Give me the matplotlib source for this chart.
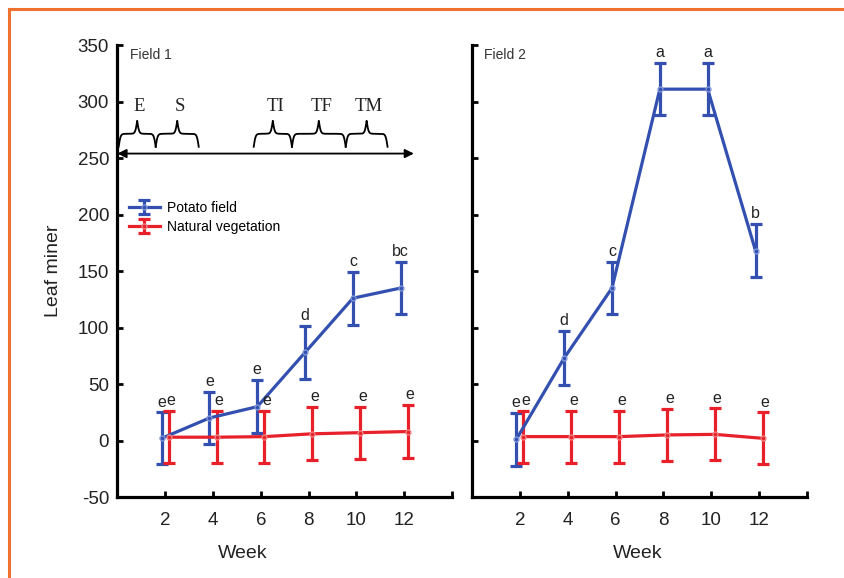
import numpy as np
import matplotlib
matplotlib.use("Agg")
import matplotlib.pyplot as plt
from matplotlib.lines import Line2D

plt.rcParams['font.family'] = ['Liberation Sans', 'DejaVu Sans']
plt.rcParams['axes.unicode_minus'] = False

# data
weeks = [2, 4, 6, 8, 10, 12]

potato_f1 = [2, 20, 30, 78, 126, 135]
potato_f1_err = [23, 23, 23.5, 23.5, 23.5, 23]
veg_f1 = [3, 3, 3.5, 6, 7, 8]
veg_f1_err = [23, 23, 23, 23.5, 23, 23.5]

potato_f2 = [1, 73, 135, 311, 311, 168]
potato_f2_err = [23.5, 24, 23, 23, 23, 23.5]
veg_f2 = [3.5, 3.5, 3.5, 5, 5.5, 2]
veg_f2_err = [23, 23, 23, 23, 23, 23]

letters_pot_f1 = ['e', 'e', 'e', 'd', 'c', 'bc']
letters_veg_f1 = ['e', 'e', 'e', 'e', 'e', 'e']
letters_pot_f2 = ['e', 'd', 'c', 'a', 'a', 'b']
letters_veg_f2 = ['e', 'e', 'e', 'e', 'e', 'e']

# crop stages drawn as braces in field 1
phases = ['E', 'S', 'TI', 'TF', 'TM']
phase_start = [0.05, 1.6, 5.7, 7.3, 9.55]
phase_end = [1.6, 3.4, 7.3, 9.55, 11.3]

blue = '#3350b0'
red = '#e8202a'
shift = 0.15


def brace(ax, x0, x1, yend, ytip, beta=25):
    # horizontal curly brace, pointing up
    xm = (x0 + x1) / 2
    xs = np.linspace(x0, xm, 150)
    half = 1 / (1 + np.exp(-beta * (xs - x0))) + 1 / (1 + np.exp(-beta * (xs - xm)))
    y = np.concatenate((half, half[-2::-1]))
    x = np.concatenate((xs, (x0 + x1) - xs[-2::-1]))
    y = yend + (y - 0.5) * (ytip - yend)
    ax.plot(x, y, color='k', lw=1.3, clip_on=False)


def draw_panel(ax, pot, pot_err, veg, veg_err, let_pot, let_veg, title, ylabels):
    x = np.array(weeks)
    hp = ax.errorbar(x - shift, pot, yerr=pot_err, color=blue, lw=2.3, elinewidth=2.3,
                     capsize=4, capthick=2.3, marker='o', ms=3.5, mfc='none',
                     mec='#7f95d8', label='Potato field')
    hv = ax.errorbar(x + shift, veg, yerr=veg_err, color=red, lw=2.3, elinewidth=2.3,
                     capsize=4, capthick=2.3, marker='o', ms=3.5, mfc='none',
                     mec='#f08080', label='Natural vegetation')
    for xi, m, e, l in zip(x - shift, pot, pot_err, let_pot):
        ax.annotate(l, (xi, m + e), xytext=(0, 2), textcoords='offset points',
                    ha='center', va='bottom', fontsize=11.5, color='#222222')
    for xi, m, e, l in zip(x + shift, veg, veg_err, let_veg):
        ax.annotate(l, (xi + 0.1, m + e), xytext=(0, 2), textcoords='offset points',
                    ha='center', va='bottom', fontsize=11.5, color='#222222')

    ax.set_xlim(0, 14)
    ax.set_ylim(-50, 350)
    ax.set_xticks(list(weeks) + [14], [str(w) for w in weeks] + [''])
    ax.set_yticks(np.arange(-50, 351, 50))
    if not ylabels:
        ax.set_yticklabels([])
    for s in ['top', 'right']:
        ax.spines[s].set_visible(False)
    for s in ['left', 'bottom']:
        ax.spines[s].set_linewidth(2.3)
    ax.tick_params(axis='both', direction='in', length=4, width=2, labelsize=13.5,
                   colors='k', labelcolor='#222222')
    ax.tick_params(axis='x', pad=11)
    ax.tick_params(axis='y', pad=6)
    ax.text(0.037, 0.978, title, transform=ax.transAxes, fontsize=10,
            ha='left', va='center', color='#333333')
    ax.set_xlabel('Week', fontsize=14, color='#222222')
    return hp, hv


fig = plt.figure(figsize=(8.45, 5.78), dpi=100)
ax1 = fig.add_axes([0.139, 0.140, 0.396, 0.782])
ax2 = fig.add_axes([0.5586, 0.140, 0.3964, 0.782])

hp, hv = draw_panel(ax1, potato_f1, potato_f1_err, veg_f1, veg_f1_err,
                    letters_pot_f1, letters_veg_f1, 'Field 1', True)
draw_panel(ax2, potato_f2, potato_f2_err, veg_f2, veg_f2_err,
           letters_pot_f2, letters_veg_f2, 'Field 2', False)

ax1.set_ylabel('Leaf miner', fontsize=14, color='#222222')
ax1.yaxis.set_label_coords(-0.165, 0.5)
ax1.xaxis.set_label_coords(0.375, -0.105)
ax2.xaxis.set_label_coords(0.496, -0.105)

ax1.legend(handles=[hp, hv], loc='upper left', bbox_to_anchor=(0.035, 0.655),
           frameon=False, fontsize=10, handlelength=2.2, handletextpad=0.5,
           labelspacing=0.35, borderpad=0, borderaxespad=0, numpoints=1)

# time line with crop stages
ax1.annotate('', xy=(12.4, 254), xytext=(0, 254),
             arrowprops=dict(arrowstyle='<|-|>', color='k', lw=1.3, mutation_scale=13,
                             shrinkA=0, shrinkB=0), annotation_clip=False)
for name, a, b in zip(phases, phase_start, phase_end):
    brace(ax1, a, b, 260, 283)
    ax1.text((a + b) / 2 + 0.1, 296, name, fontsize=13.5, family='Liberation Serif',
             ha='center', va='center', color='#222222')

# orange frame on left and top
fig.add_artist(Line2D([0.0107, 0.0107], [0, 0.9844], color='#f07030', lw=2.2))
fig.add_artist(Line2D([0.0107, 1.0], [0.9844, 0.9844], color='#f07030', lw=2.2))

fig.savefig('out.png', dpi=100)
